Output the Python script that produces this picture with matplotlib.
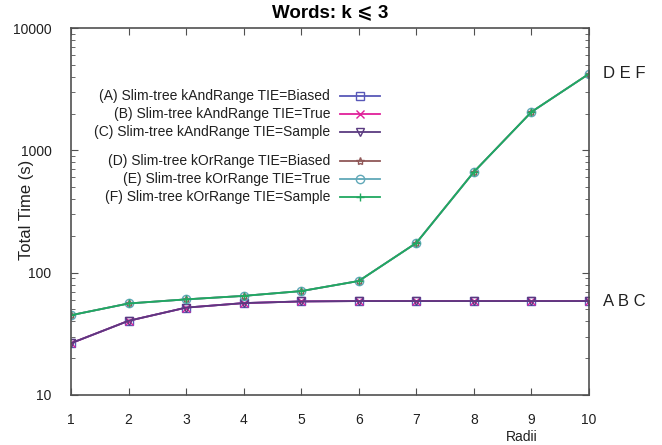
import matplotlib
matplotlib.use("Agg")
import matplotlib.pyplot as plt
from matplotlib.ticker import LogLocator, FixedFormatter, FixedLocator, NullFormatter
from matplotlib.lines import Line2D

plt.rcParams["font.family"] = ["Liberation Sans", "DejaVu Sans"]

radii = [1, 2, 3, 4, 5, 6, 7, 8, 9, 10]
and_time = [26.5, 40.4, 51.8, 56.4, 58.2, 58.6, 58.6, 58.6, 58.6, 58.6]
or_time = [44.9, 56.0, 60.5, 64.6, 70.7, 85.5, 175, 666, 2060, 4220]

labels = [
    "(A) Slim-tree kAndRange TIE=Biased",
    "(B) Slim-tree kAndRange TIE=True",
    "(C) Slim-tree kAndRange TIE=Sample",
    "(D) Slim-tree kOrRange TIE=Biased",
    "(E) Slim-tree kOrRange TIE=True",
    "(F) Slim-tree kOrRange TIE=Sample",
]
series = [and_time, and_time, and_time, or_time, or_time, or_time]
colors = ["#5858b8", "#e0209a", "#5a3a80", "#905858", "#60a8b8", "#20a860"]
markers = ["s", "x", "v", "*", "o", "+"]
yticks = [10, 100, 1000, 10000]

fig = plt.figure(figsize=(6.62, 4.45), dpi=100)
ax = fig.add_axes([71 / 662, 1 - 395 / 445, 518 / 662, 367 / 445])

for vals, c, m in zip(series, colors, markers):
    ax.plot(radii, vals, color=c, marker=m, markersize=6, lw=1.3,
            markerfacecolor="none", markeredgewidth=1.0)

ax.set_yscale("log")
ax.set_ylim(10, 10000)
ax.set_xlim(1, 10)
ax.set_xticks(radii)
ax.yaxis.set_major_locator(FixedLocator(yticks))
ax.yaxis.set_major_formatter(FixedFormatter([str(v) for v in yticks]))
ax.yaxis.set_minor_locator(LogLocator(base=10, subs=range(2, 10)))
ax.yaxis.set_minor_formatter(NullFormatter())
ax.tick_params(which="both", direction="in", top=True, right=True,
               color="#505050", labelsize=10, labelcolor="#202020")
ax.tick_params(which="major", length=5)
ax.tick_params(which="minor", length=3)
ax.tick_params(axis="y", which="major", pad=14)
ax.tick_params(axis="x", which="major", pad=13)
for s in ax.spines.values():
    s.set_color("#505050")
    s.set_linewidth(1.2)

ax.set_title("Words: k \u2a7d 3", fontsize=13.5, fontweight="bold", pad=8)
ax.set_ylabel("Total Time (s)", fontsize=12, color="#202020")
ax.yaxis.set_label_coords(-0.071, 0.505)
ax.set_xlabel("Radii", fontsize=10, color="#202020")
ax.xaxis.set_label_coords(0.87, -0.114)
ax.xaxis.label.set_verticalalignment("center")

ax.text(1.027, and_time[-1], "A B C", transform=ax.get_yaxis_transform(),
        va="center", ha="left", fontsize=12, color="#202020")
ax.text(1.027, or_time[-1], "D E F", transform=ax.get_yaxis_transform(),
        va="center", ha="left", fontsize=12, color="#202020")

# legend drawn by hand: right-aligned text, sample to the right
rows_y = [0.815, 0.766, 0.717, 0.638, 0.589, 0.540]
x_text, x0, x1 = (330 - 71) / 518, (340 - 71) / 518, (380 - 71) / 518
for lab, c, m, yy in zip(labels, colors, markers, rows_y):
    ax.text(x_text, yy, lab, transform=ax.transAxes, ha="right", va="center",
            fontsize=10, color="#202020")
    ax.add_line(Line2D([x0, x1], [yy, yy], transform=ax.transAxes, color=c, lw=1.3))
    ax.add_line(Line2D([(x0 + x1) / 2], [yy], transform=ax.transAxes, color=c,
                       marker=m, markersize=6, markerfacecolor="none",
                       markeredgewidth=1.0))

fig.savefig("out.png", dpi=100)
